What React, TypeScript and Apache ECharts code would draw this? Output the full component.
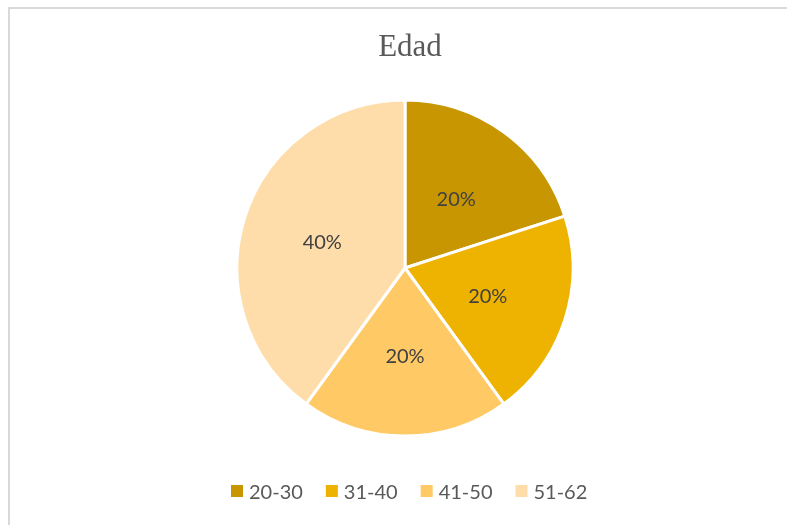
import React, { useEffect, useRef } from "react";
import * as echarts from "echarts";

const titleText = "Edad";
const categories = ["20-30", "31-40", "41-50", "51-62"];
const percentages = [20, 20, 20, 40];
const colors = ["#C89600", "#EEB200", "#FFC966", "#FFDDAA"];

export default function App() {
  const ref = useRef<HTMLDivElement>(null);
  useEffect(() => {
    if (!ref.current) return;
    const chart = echarts.init(ref.current, null, { renderer: "svg" });
    chart.setOption({
      animation: false,
      color: colors,
      title: {
        text: titleText,
        left: 395,
        textAlign: "center",
        top: 16,
        textStyle: {
          fontFamily: "Liberation Serif",
          fontSize: 31,
          fontWeight: "normal",
          color: "#595959",
        },
      },
      legend: {
        data: categories,
        left: 214,
        top: 467,
        itemWidth: 14,
        itemHeight: 14,
        itemGap: 21,
        icon: "rect",
        textStyle: { fontFamily: "Lato", fontSize: 20, color: "#595959" },
      },
      series: [
        {
          type: "pie",
          center: [395, 259],
          radius: [0, 168],
          startAngle: 90,
          clockwise: true,
          label: {
            show: true,
            position: "inner",
            formatter: "{c}%",
            fontFamily: "Lato",
            fontSize: 20,
            color: "#404040",
          },
          labelLine: { show: false },
          itemStyle: { borderColor: "#ffffff", borderWidth: 3 },
          emphasis: { disabled: true },
          data: categories.map((c, i) => ({ name: c, value: percentages[i] })),
        },
      ],
    });
    return () => chart.dispose();
  }, []);
  return (
    <div
      style={{
        position: "fixed",
        left: 8,
        top: 7,
        width: 800,
        height: 530,
        boxSizing: "border-box",
        borderTop: "2px solid #d9d9d9",
        borderLeft: "2px solid #d9d9d9",
        overflow: "hidden",
      }}
    >
      <div ref={ref} style={{ width: 798, height: 528 }} />
    </div>
  );
}
